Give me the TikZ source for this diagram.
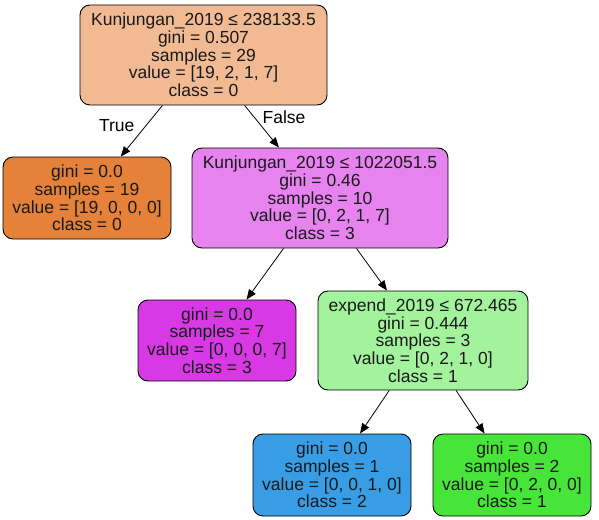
\documentclass[tikz,border=0pt]{standalone}
\usepackage{fontspec}
\setmainfont{Liberation Sans}
\usetikzlibrary{arrows.meta}

\definecolor{rootfill}{HTML}{F1BA93}
\definecolor{zerofill}{HTML}{E58139}
\definecolor{threelight}{HTML}{E683EE}
\definecolor{threefill}{HTML}{D739E5}
\definecolor{onelight}{HTML}{A3F29C}
\definecolor{twofill}{HTML}{399DE5}
\definecolor{onefill}{HTML}{47E539}

\begin{document}
\begin{tikzpicture}[x=1pt, y=-1pt,
	treenode/.style={draw=black, line width=0.9pt, rounded corners=10pt, align=center, inner sep=0pt,
		font=\fontsize{17.5}{17.7}\selectfont, text=black!90},
	leafnode/.style={treenode, minimum width=158pt, minimum height=82pt},
	splitnode/.style={treenode, minimum height=100pt},
	arr/.style={line width=0.8pt, -{Stealth[inset=0pt, length=10pt, width=8pt]}},
	edgelabel/.style={inner sep=0pt, font=\fontsize{17.5}{17.7}\selectfont}]

	\useasboundingbox (0,0) rectangle (599,519);

	% split nodes
	\node[splitnode, fill=rootfill, minimum width=247pt] (root) at (203.5,55)
		{Kunjungan\_2019 ≤ 238133.5\\gini = 0.507\\samples = 29\\value = [19, 2, 1, 7]\\class = 0};
	\node[splitnode, fill=threelight, minimum width=256pt] (kunj) at (320,198)
		{Kunjungan\_2019 ≤ 1022051.5\\gini = 0.46\\samples = 10\\value = [0, 2, 1, 7]\\class = 3};
	\node[splitnode, fill=onelight, minimum width=210pt, minimum height=99pt] (expend) at (423,340.5)
		{expend\_2019 ≤ 672.465\\gini = 0.444\\samples = 3\\value = [0, 2, 1, 0]\\class = 1};

	% leaves
	\node[leafnode, fill=zerofill, minimum width=168pt] (leafzero) at (87,198)
		{gini = 0.0\\samples = 19\\value = [19, 0, 0, 0]\\class = 0};
	\node[leafnode, fill=threefill, minimum height=81pt] (leafthree) at (217,340.5)
		{gini = 0.0\\samples = 7\\value = [0, 0, 0, 7]\\class = 3};
	\node[leafnode, fill=twofill] (leaftwo) at (332,475)
		{gini = 0.0\\samples = 1\\value = [0, 0, 1, 0]\\class = 2};
	\node[leafnode, fill=onefill] (leafone) at (512,475)
		{gini = 0.0\\samples = 2\\value = [0, 2, 0, 0]\\class = 1};

	\draw[arr] (root) -- (leafzero) node[edgelabel, pos=0.4, anchor=east, xshift=-11pt] {True};
	\draw[arr] (root) -- (kunj) node[edgelabel, pos=0.28, anchor=west, xshift=8pt] {False};
	\foreach \a/\b in {kunj/leafthree, kunj/expend, expend/leaftwo, expend/leafone}
		\draw[arr] (\a) -- (\b);

\end{tikzpicture}
\end{document}
